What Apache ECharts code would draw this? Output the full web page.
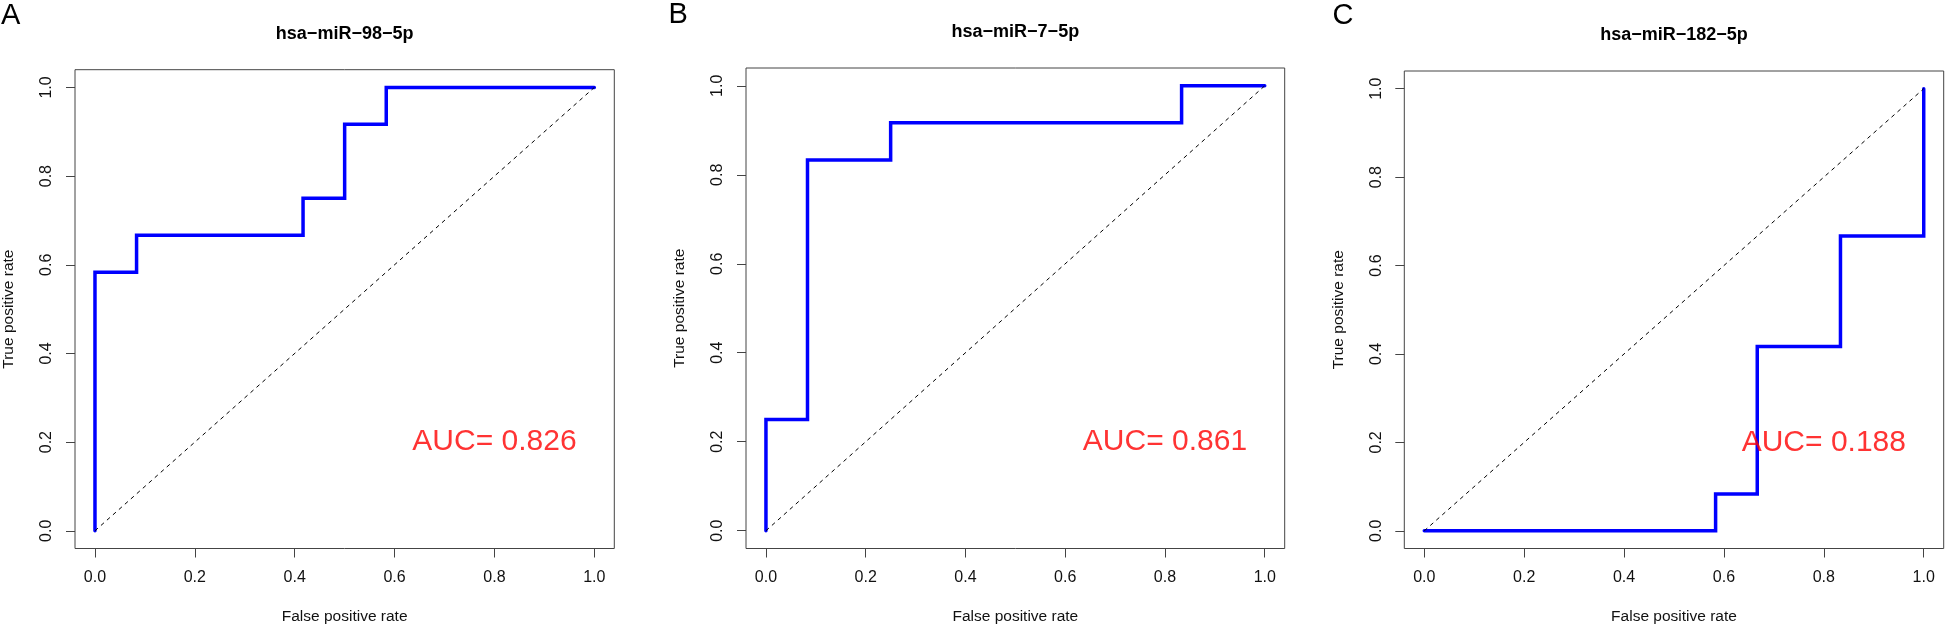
<!DOCTYPE html>
<html><head><meta charset="utf-8">
<script src="https://cdn.jsdelivr.net/npm/echarts@6/dist/echarts.min.js"></script>
<style>html,body{margin:0;padding:0;background:#fff}#c{width:1946px;height:630px}</style>
</head><body><div id="c"></div>
<script>
// ---- data ----
const panelTitles = ['hsa\u2212miR\u221298\u22125p', 'hsa\u2212miR\u22127\u22125p', 'hsa\u2212miR\u2212182\u22125p'];
const panelLetters = ['A', 'B', 'C'];
const aucLabels = ['AUC= 0.826', 'AUC= 0.861', 'AUC= 0.188'];
const aucAnchor = [0.8, 0.2];
const tickValues = [0, 0.2, 0.4, 0.6, 0.8, 1.0];
const xAxisTitle = 'False positive rate';
const yAxisTitle = 'True positive rate';
const diagonal = [[0, 0], [1, 1]];
const rocA = [[0,0],[0,0.5833],[0.0833,0.5833],[0.0833,0.6667],[0.4167,0.6667],[0.4167,0.75],[0.5,0.75],[0.5,0.9167],[0.5833,0.9167],[0.5833,1],[1,1]];
const rocB = [[0,0],[0,0.25],[0.0833,0.25],[0.0833,0.8333],[0.25,0.8333],[0.25,0.9167],[0.8333,0.9167],[0.8333,1],[1,1]];
const rocC = [[0,0],[0.5833,0],[0.5833,0.0833],[0.6667,0.0833],[0.6667,0.4167],[0.8333,0.4167],[0.8333,0.6667],[1,0.6667],[1,1]];
const rocCurves = [rocA, rocB, rocC];

// ---- layout ----
const boxes = [
  {left: 75, top: 69.7, width: 539.3, height: 482.3},
  {left: 746, top: 68, width: 538.7, height: 482.7},
  {left: 1404.3, top: 71, width: 539.4, height: 482}
];
const letterPos = [[1, 15.6], [668.5, 15.3], [1332.6, 15.5]];
const FONT = '"Liberation Sans", Arial, Helvetica, sans-serif';
const AXC = '#444';
const TXT = '#111';

const chart = echarts.init(document.getElementById('c'), null, {renderer: 'canvas'});
const grid = [], xAxis = [], yAxis = [], series = [], graphic = [];

boxes.forEach((b, i) => {
  grid.push({left: b.left, top: b.top, width: b.width, height: b.height, show: true,
    borderColor: AXC, borderWidth: 1, backgroundColor: 'transparent', containLabel: false});
  xAxis.push({type: 'value', gridIndex: i, min: -0.04, max: 1.04, position: 'bottom',
    axisLine: {show: false, onZero: false},
    axisTick: {show: true, inside: false, length: 9, customValues: tickValues, lineStyle: {color: AXC, width: 1}},
    axisLabel: {customValues: tickValues, margin: 21.5, fontSize: 16, color: TXT, fontFamily: FONT,
      formatter: v => v.toFixed(1)},
    splitLine: {show: false},
    name: xAxisTitle, nameLocation: 'middle', nameGap: 60.5,
    nameTextStyle: {fontSize: 15.5, color: TXT, fontFamily: FONT}
  });
  yAxis.push({type: 'value', gridIndex: i, min: -0.04, max: 1.04, position: 'left',
    axisLine: {show: false, onZero: false},
    axisTick: {show: true, inside: false, length: 9, customValues: tickValues, lineStyle: {color: AXC, width: 1}},
    axisLabel: {customValues: tickValues, margin: 20, rotate: 90, fontSize: 16, color: TXT, fontFamily: FONT,
      formatter: v => v.toFixed(1)},
    splitLine: {show: false},
    name: yAxisTitle, nameLocation: 'middle', nameGap: 58,
    nameTextStyle: {fontSize: 15.5, color: TXT, fontFamily: FONT}
  });
  series.push({type: 'line', xAxisIndex: i, yAxisIndex: i, data: rocCurves[i], symbol: 'none',
    lineStyle: {color: '#0000FF', width: 3.5, cap: 'round', join: 'miter'}, silent: true, z: 2});
  series.push({type: 'line', xAxisIndex: i, yAxisIndex: i, data: diagonal, symbol: 'none',
    lineStyle: {color: '#000', width: 1, type: [4, 4]}, silent: true, z: 3});
  series.push({type: 'scatter', xAxisIndex: i, yAxisIndex: i, data: [aucAnchor], symbolSize: 1,
    itemStyle: {color: 'rgba(0,0,0,0)'}, silent: true, z: 4,
    label: {show: true, position: 'inside', formatter: aucLabels[i], fontSize: 30, color: '#FF0000', fontFamily: FONT}});
  graphic.push({type: 'text', x: b.left + b.width / 2, y: b.top - 36,
    style: {text: panelTitles[i], fontSize: 18, fontWeight: 'bold', fontFamily: FONT, fill: '#000',
      align: 'center', verticalAlign: 'middle'}});
  graphic.push({type: 'text', x: letterPos[i][0], y: letterPos[i][1],
    style: {text: panelLetters[i], fontSize: 29, fontFamily: FONT, fill: '#000',
      align: 'left', verticalAlign: 'middle'}});
});

chart.setOption({animation: false, backgroundColor: '#fff', grid, xAxis, yAxis, series, graphic});
</script></body></html>
